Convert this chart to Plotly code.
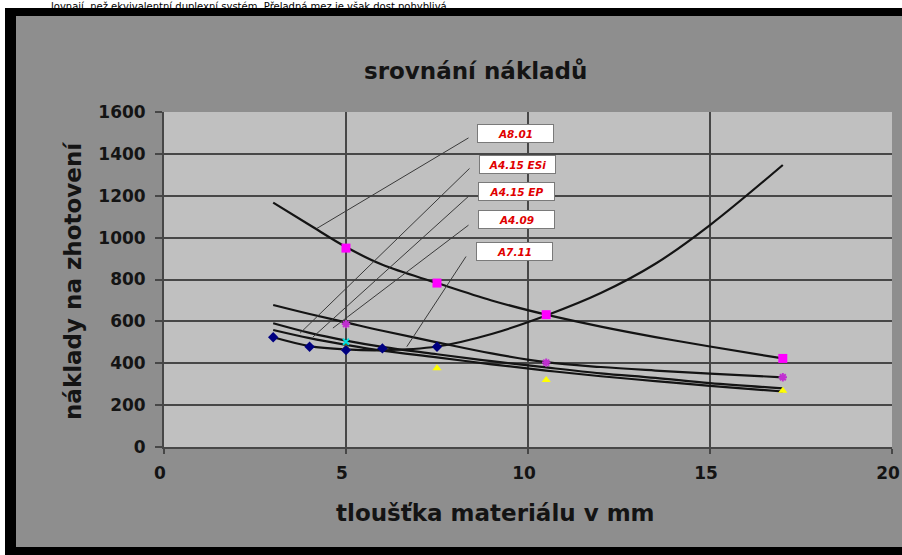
import plotly.graph_objects as go

W, H = 902, 555

# ---- data ----
x_trend = [3, 4, 5, 6, 7.5, 9, 10.5, 12, 13.5, 15, 17]
trend_A801 = [1167, 1060, 955, 870, 783, 700, 632, 575, 525, 480, 423]
trend_A711 = [524, 482, 466, 462, 480, 540, 628, 735, 875, 1060, 1347]
trend_A415ESi = [678, 635, 595, 555, 500, 447, 405, 382, 365, 350, 333]
trend_A415EP = [591, 545, 508, 478, 443, 410, 380, 352, 330, 305, 280]
trend_A409 = [559, 520, 488, 460, 428, 395, 365, 338, 315, 292, 265]

pts_A801_x = [5, 7.5, 10.5, 17]
pts_A801_y = [950, 783, 632, 423]
pts_blue_x = [3, 4, 5, 6, 7.5]
pts_blue_y = [524, 479, 463, 471, 479]
pts_mag_x = [5, 10.5, 17]
pts_mag_y = [587, 403, 333]
pts_cyan_x = [5]
pts_cyan_y = [503]
pts_yel_x = [5, 7.5, 10.5, 17]
pts_yel_y = [473, 376, 320, 269]

label_names = ["A8.01", "A4.15 ESi", "A4.15 EP", "A4.09", "A7.11"]
label_target_x = [4.2, 3.74, 4.09, 4.64, 6.67]
label_target_y = [1044, 544, 525, 568, 479]

x_ticks = [0, 5, 10, 15, 20]
x_tick_labels = ["0", "5", "10", "15", "20"]
y_ticks = [0, 200, 400, 600, 800, 1000, 1200, 1400, 1600]
y_tick_labels = ["0", "200", "400", "600", "800", "1000", "1200", "1400", "1600"]

# ---- layout geometry (pixels) ----
PL, PR, PT, PB = 164, 892, 112, 447


def fx(px):
    return px / W


def fy(py):
    return 1 - py / H


fig = go.Figure()

for name, ys in [("A8.01", trend_A801), ("A7.11", trend_A711),
                 ("A4.15 ESi", trend_A415ESi), ("A4.15 EP", trend_A415EP),
                 ("A4.09", trend_A409)]:
    fig.add_trace(go.Scatter(x=x_trend, y=ys, mode="lines", name=name,
                             line=dict(color="#141414", width=2.2, shape="spline", smoothing=1.0),
                             hoverinfo="skip"))

fig.add_trace(go.Scatter(x=pts_yel_x, y=pts_yel_y, mode="markers",
                         marker=dict(symbol="triangle-up", size=8, color="#ffff00")))
fig.add_trace(go.Scatter(x=pts_cyan_x, y=pts_cyan_y, mode="markers",
                         marker=dict(symbol="x-thin", size=6, color="#00e0e0",
                                     line=dict(width=2, color="#00e0e0"))))
fig.add_trace(go.Scatter(x=pts_mag_x, y=pts_mag_y, mode="markers",
                         marker=dict(symbol="asterisk", size=7, color="#c030d0",
                                     line=dict(width=2, color="#c030d0"))))
fig.add_trace(go.Scatter(x=pts_blue_x, y=pts_blue_y, mode="markers",
                         marker=dict(symbol="diamond", size=8, color="#000080")))
fig.add_trace(go.Scatter(x=pts_A801_x, y=pts_A801_y, mode="markers",
                         marker=dict(symbol="square", size=9, color="#ff00ff")))

# label boxes and separate leader lines
label_centers = [(515, 133), (517, 164), (516, 191), (516, 220), (514, 251)]
leader_starts = [(470, 137), (471, 167), (470, 195), (470, 224), (467, 255)]
sx = (PR - PL) / 20.0
sy = (PB - PT) / 1600.0
annotations = []
for name, tx, ty, (cx, cy), (lx, ly) in zip(label_names, label_target_x, label_target_y,
                                            label_centers, leader_starts):
    px = PL + tx * sx
    py = PB - ty * sy
    annotations.append(dict(
        x=tx, y=ty, xref="x", yref="y",
        ax=lx - px, ay=ly - py, axref="pixel", ayref="pixel",
        text="", showarrow=True, arrowhead=0, arrowwidth=1, arrowcolor="#3a3a3a"))
    annotations.append(dict(
        x=fx(cx), y=fy(cy), xref="paper", yref="paper", xanchor="center", yanchor="middle",
        text="<b><i>%s</i></b>" % name, showarrow=False,
        font=dict(family="DejaVu Sans", size=10.5, color="#e00000"),
        bgcolor="#ffffff", bordercolor="#7a7a7a", borderwidth=1,
        width=73, height=15, borderpad=1, align="center"))

# title & axis titles
common = dict(xref="paper", yref="paper", showarrow=False, xanchor="center", yanchor="middle")
annotations.append(dict(x=fx(475), y=fy(71), text="<b>srovnání nákladů</b>",
                        font=dict(family="DejaVu Sans", size=23, color="#141414"), **common))
annotations.append(dict(x=fx(495), y=fy(513), text="<b>tloušťka materiálu v mm</b>",
                        font=dict(family="DejaVu Sans", size=23, color="#141414"), **common))
annotations.append(dict(x=fx(73), y=fy(281), text="<b>náklady na zhotovení</b>", textangle=-90,
                        font=dict(family="DejaVu Sans", size=23, color="#141414"), **common))
# line of document text above the chart
annotations.append(dict(x=fx(50), y=1, xref="paper", yref="paper",
                        xanchor="left", yanchor="top",
                        text="lovnají, než ekvivalentní duplexní systém. Přeladná mez je však dost pohyblivá",
                        showarrow=False, borderpad=0,
                        font=dict(family="DejaVu Sans", size=10, color="#000000")))

shapes = [
    dict(type="rect", xref="paper", yref="paper", x0=fx(5), x1=1, y0=0, y1=fy(8),
         fillcolor="#000000", line=dict(width=0), layer="below"),
    dict(type="rect", xref="paper", yref="paper", x0=fx(16), x1=1, y0=fy(547), y1=fy(16),
         fillcolor="#8e8e8e", line=dict(width=0), layer="below"),
    dict(type="rect", xref="x domain", yref="y domain", x0=0, x1=1, y0=0, y1=1,
         fillcolor="#c0c0c0", line=dict(width=0), layer="below"),
]

fig.update_layout(
    width=W, height=H, autosize=False,
    margin=dict(l=0, r=0, t=0, b=0, pad=0),
    paper_bgcolor="#ffffff", plot_bgcolor="#c0c0c0",
    showlegend=False,
    annotations=annotations, shapes=shapes,
    xaxis=dict(domain=[fx(PL), fx(PR)], range=[0, 20], tickvals=x_ticks,
               ticktext=x_tick_labels,
               showgrid=True, gridcolor="#474747", gridwidth=1.8,
               showline=True, linecolor="#474747", linewidth=1.8,
               ticks="outside", ticklen=5, tickcolor="#474747", tickwidth=1.6,
               ticklabelstandoff=5, ticklabelshift=-4, ticklabeloverflow="allow",
               zeroline=False, automargin=False,
               tickfont=dict(family="DejaVu Sans", size=17, color="#141414", weight="bold")),
    yaxis=dict(domain=[fy(PB), fy(PT)], range=[0, 1600], tickvals=y_ticks,
               ticktext=y_tick_labels,
               showgrid=True, gridcolor="#474747", gridwidth=1.8,
               showline=True, linecolor="#474747", linewidth=1.8,
               ticks="outside", ticklen=7, tickcolor="#474747", tickwidth=1.6,
               ticklabelstandoff=6, ticklabeloverflow="allow", zeroline=False, automargin=False,
               tickfont=dict(family="DejaVu Sans", size=17, color="#141414", weight="bold")),
)

post = ("document.documentElement.style.margin='0';document.documentElement.style.padding='0';"
        "document.documentElement.style.overflow='hidden';"
        "document.body.style.margin='0';document.body.style.padding='0';"
        "document.body.style.overflow='hidden';")

fig.write_html("out.html", post_script=post, config={"displayModeBar": False})
